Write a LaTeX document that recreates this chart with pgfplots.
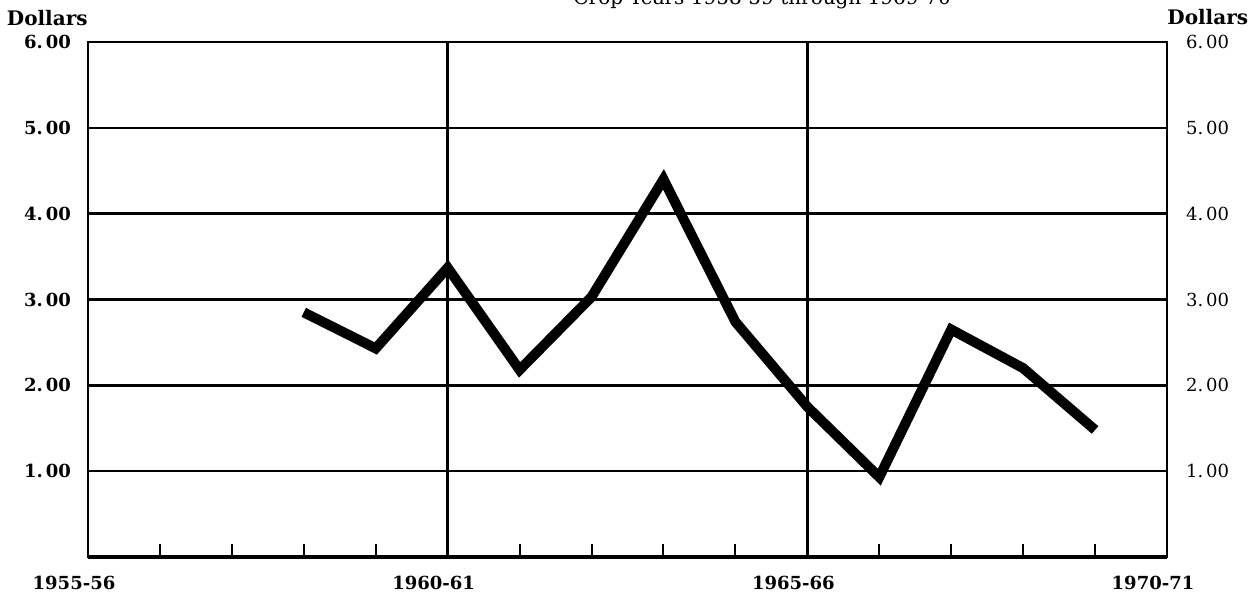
\documentclass[border=0pt]{standalone}
\usepackage{fontspec}
\setmainfont{DejaVu Serif}
\usepackage{pgfplots}
\pgfplotsset{compat=1.18}
\begin{document}
\begin{tikzpicture}
\begin{axis}[
  name=main,
  scale only axis, width=539.5pt, height=257.5pt,
  xmin=0, xmax=15, ymin=0, ymax=6,
  axis line style={line width=1.2pt},
  xtick={0,5,10,15},
  xticklabels={1955-56,1960-61,1965-66,1970-71},
  minor xtick={1,2,3,4,6,7,8,9,11,12,13,14},
  ytick={1,2,3,4,5,6},
  yticklabels={1.\,00,2.\,00,3.\,00,4.\,00,5.\,00,6.\,00},
  xmajorgrids, ymajorgrids,
  major grid style={black, line width=1.2pt},
  tick style={black, line width=1pt},
  major tick length=0pt, minor tick length=6.5pt,
  xtick pos=bottom, ytick pos=left, tick align=inside,
  ticklabel style={font=\bfseries\fontsize{9}{10}\selectfont},
  xticklabel style={anchor=base, yshift=-16.5pt, xshift=-7pt},
  yticklabel style={xshift=-5pt},
  clip=false,
]
\addplot[black, line width=2.2pt] coordinates {(0,0) (15,0)};
\addplot[black, line width=5pt, line join=miter] coordinates {
  (3,2.85) (4,2.43) (5,3.37) (6,2.18) (7,3.03) (8,4.40)
  (9,2.74) (10,1.75) (11,0.93) (12,2.65) (13,2.20) (14,1.48)
};
\end{axis}
\begin{axis}[
  scale only axis, width=539.5pt, height=257.5pt,
  xmin=0, xmax=15, ymin=0, ymax=6,
  hide x axis, axis y line*=right,
  axis line style={line width=1.2pt},
  ytick={1,2,3,4,5,6},
  yticklabels={1.\,00,2.\,00,3.\,00,4.\,00,5.\,00,6.\,00},
  major tick length=0pt,
  ticklabel style={font=\fontsize{9}{10}\selectfont},
  yticklabel style={xshift=6pt},
]
\addplot[draw=none] coordinates {(0,0)};
\end{axis}
\node[anchor=base east, inner sep=0pt, font=\bfseries\fontsize{10}{12}\selectfont] at ([yshift=8pt]main.north west) {Dollars};
\node[anchor=base west, inner sep=0pt, font=\bfseries\fontsize{10}{12}\selectfont] at ([yshift=8.5pt]main.north east) {Dollars};
\node[anchor=base west, inner sep=0pt, font=\fontsize{10}{12}\selectfont] at ([xshift=242.5pt, yshift=18.5pt]main.north west) {Crop Years 1958-59 through 1969-70};
\pgfresetboundingbox
\path[use as bounding box] ([xshift=-44pt,yshift=-19pt]main.south west) rectangle ([xshift=44.5pt,yshift=21pt]main.north east);
\end{tikzpicture}
\end{document}
